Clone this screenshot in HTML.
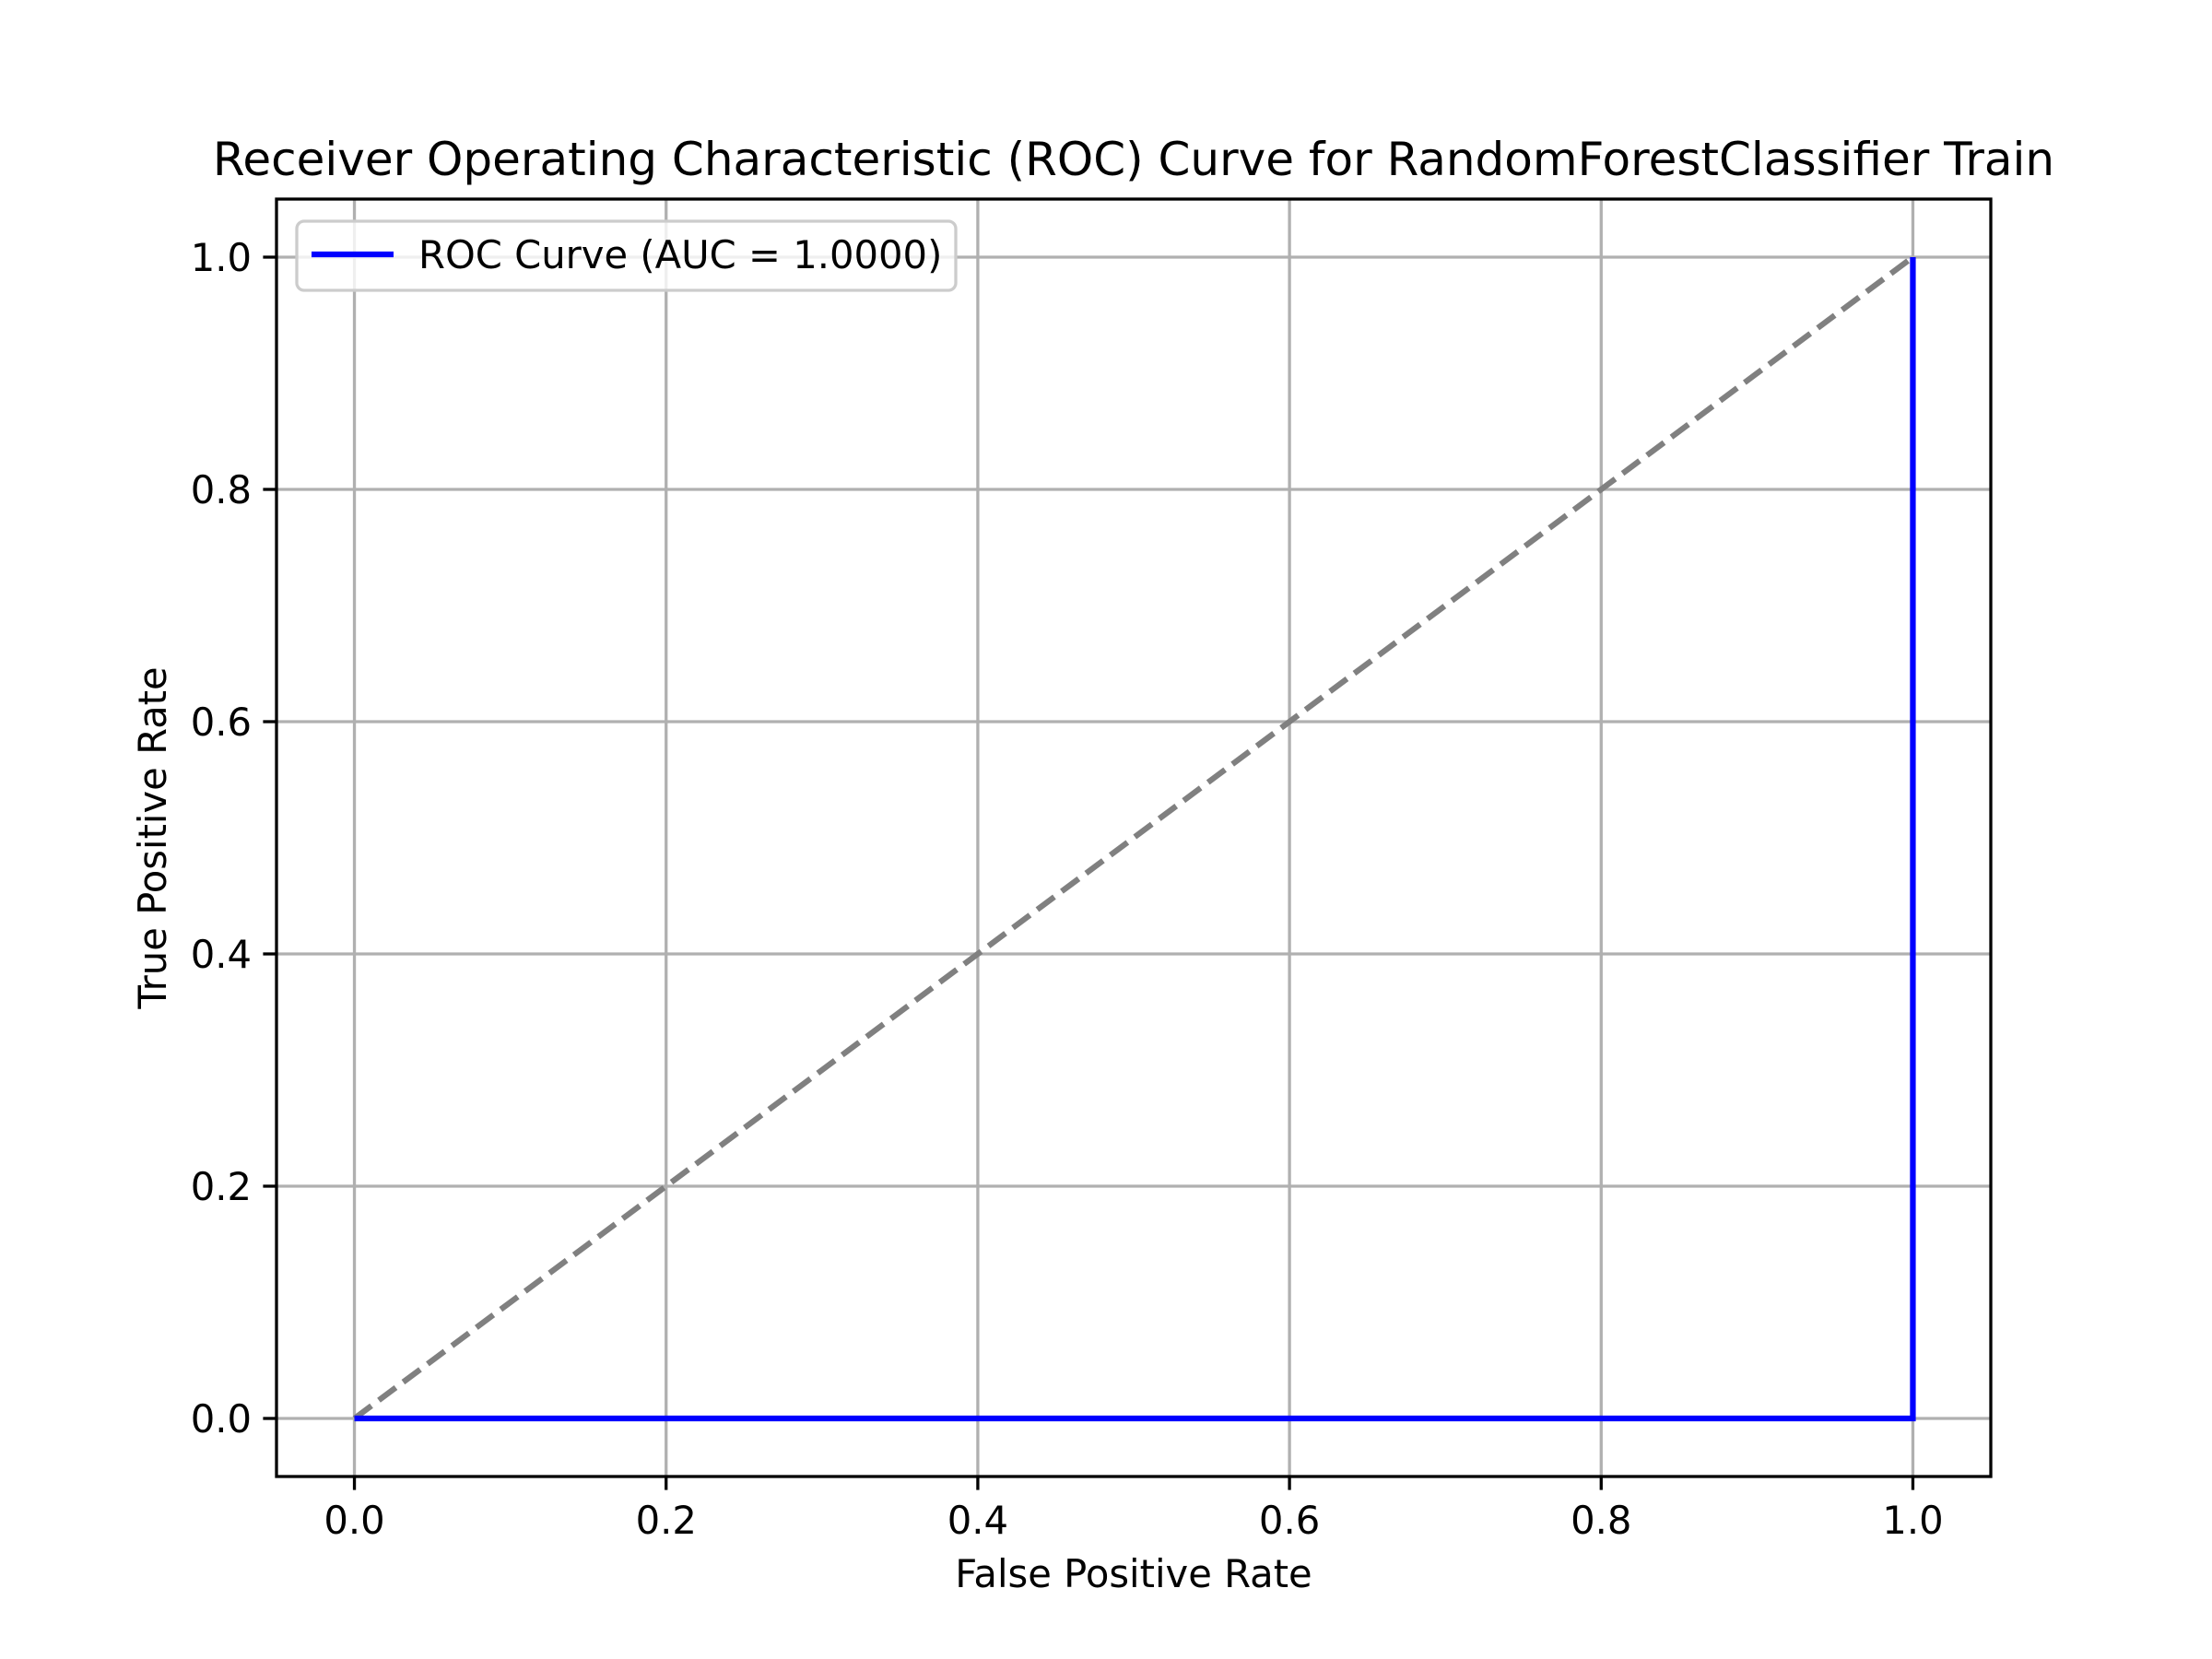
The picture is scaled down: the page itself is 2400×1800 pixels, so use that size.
<!DOCTYPE html>
<html><head><meta charset="utf-8"><style>
html,body{margin:0;padding:0;background:#fff;}
svg{display:block;font-family:"DejaVu Sans","Liberation Sans",sans-serif;}
</style></head><body>
<svg id="chart" width="2400" height="1800" viewBox="0 0 2400 1800" xmlns="http://www.w3.org/2000/svg">
<rect width="2400" height="1800" fill="#fff"/>
<text x="1230" y="190" font-size="50" text-anchor="middle">Receiver Operating Characteristic (ROC) Curve for RandomForestClassifier Train</text>
<g id="grid"></g>
<g id="ticks"></g>
<g id="series"></g>
<rect x="300" y="216" width="1860" height="1386" fill="none" stroke="#000" stroke-width="3.3"/>
<text x="1230" y="1722" font-size="41.7" text-anchor="middle">False Positive Rate</text>
<text x="180" y="909" font-size="41.7" text-anchor="middle" transform="rotate(-90 180 909)">True Positive Rate</text>
<g>
<rect x="322" y="240" width="715" height="75" rx="8" fill="#fff" fill-opacity="0.8" stroke="#ccc" stroke-width="3.3"/>
<line x1="338" y1="276" x2="427" y2="276" stroke="#0000ff" stroke-width="6.25"/>
<text x="454" y="291" font-size="41.7">ROC Curve (AUC = 1.0000)</text>
</g>
</svg>
<script>
const fpr = [0, 0, 1, 1];
const tpr = [0, 0, 0, 1];
const diagX = [0, 1];
const diagY = [0, 1];
const xTicks = [0, 0.2, 0.4, 0.6, 0.8, 1.0];
const yTicks = [0, 0.2, 0.4, 0.6, 0.8, 1.0];
const tickLabels = ["0.0","0.2","0.4","0.6","0.8","1.0"];
const NS="http://www.w3.org/2000/svg";
const L=300,R=2160,T=216,B=1602,min=-0.05,max=1.05;
const sx=v=>L+(v-min)/(max-min)*(R-L);
const sy=v=>B-(v-min)/(max-min)*(B-T);
function mk(tag,attrs,parent){const e=document.createElementNS(NS,tag);for(const k in attrs)e.setAttribute(k,attrs[k]);document.getElementById(parent).appendChild(e);return e;}
xTicks.forEach((v,i)=>{
 let g=mk('line',{x1:sx(v),x2:sx(v),y1:T,y2:B,stroke:'#b0b0b0','stroke-width':3.3},'grid');
 
 
 let t=mk('line',{x1:sx(v),x2:sx(v),y1:B,y2:B+14.6,stroke:'#000','stroke-width':3.3},'ticks');
 
 
 let l=mk('text',{x:sx(v),y:B+62,'font-size':41.7,'text-anchor':'middle'},'ticks');
 l.textContent=tickLabels[i];
 
 
});
yTicks.forEach((v,i)=>{
 let g=mk('line',{x1:L,x2:R,y1:sy(v),y2:sy(v),stroke:'#b0b0b0','stroke-width':3.3},'grid');
 
 
 let t=mk('line',{x1:L-14.6,x2:L,y1:sy(v),y2:sy(v),stroke:'#000','stroke-width':3.3},'ticks');
 
 
 let l=mk('text',{x:L-27,y:sy(v)+15,'font-size':41.7,'text-anchor':'end'},'ticks');
 l.textContent=tickLabels[i];
 
 
});
let d=mk('polyline',{points:diagX.map((x,i)=>sx(x)+','+sy(diagY[i])).join(' '),fill:'none',stroke:'#808080','stroke-width':6.25,'stroke-dasharray':'23 10'},'series');


let r=mk('polyline',{points:fpr.map((x,i)=>sx(x)+','+sy(tpr[i])).join(' '),fill:'none',stroke:'#0000ff','stroke-width':6.25},'series');


</script>
</body></html>
